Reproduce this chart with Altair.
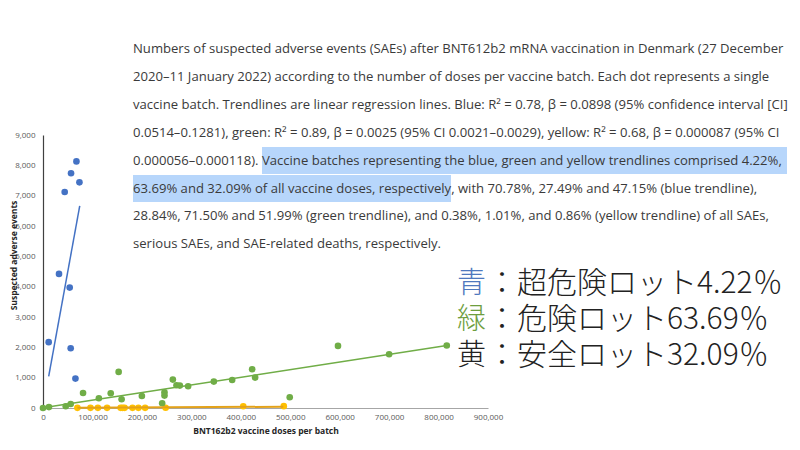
import altair as alt
import pandas as pd

# ---- data ----
blue_x = [67600, 56700, 73700, 43900, 32400, 54000, 11500, 56000, 65600]
blue_y = [8130, 7740, 7440, 7120, 4420, 3970, 2170, 1970, 970]

green_x = [0, 12000, 46000, 56000, 81000, 113000, 137000, 153000, 159000, 200000,
           241000, 245700, 245700, 262600, 270000, 276700, 293500, 345500, 382600,
           423000, 429000, 499000, 596600, 700000, 816600]
green_y = [0, 30, 56, 132, 495, 320, 485, 1190, 287, 396,
           155, 518, 409, 937, 749, 739, 716, 871, 924,
           1277, 1003, 353, 2046, 1772, 2060]

yellow_x = [69600, 96000, 111000, 129600, 157000, 161000, 165000, 181000, 193000,
            206500, 248000, 405000, 487000]
yellow_y = [5, 5, 5, 5, 5, 5, 5, 5, 5, 5, 8, 56, 60]

# trendline end points (as drawn in the figure)
blue_trend_x = [11500, 74300]
blue_trend_y = [1046, 6660]
green_trend_x = [0, 816600]
green_trend_y = [5, 2060]
yellow_trend_x = [69600, 486000]
yellow_trend_y = [6, 42]

x_ticks = list(range(0, 900001, 100000))
y_ticks = list(range(0, 9001, 1000))

caption_lines = [
    "Numbers of suspected adverse events (SAEs) after BNT612b2 mRNA vaccination in Denmark (27 December",
    "2020\u201311 January 2022) according to the number of doses per vaccine batch. Each dot represents a single",
    "vaccine batch. Trendlines are linear regression lines. Blue: R\u00b2 = 0.78, \u03b2 = 0.0898 (95% confidence interval [CI]",
    "0.0514\u20130.1281), green: R\u00b2 = 0.89, \u03b2 = 0.0025 (95% CI 0.0021\u20130.0029), yellow: R\u00b2 = 0.68, \u03b2 = 0.000087 (95% CI",
    "0.000056\u20130.000118). Vaccine batches representing the blue, green and yellow trendlines comprised 4.22%,",
    "63.69% and 32.09% of all vaccine doses, respectively, with 70.78%, 27.49% and 47.15% (blue trendline),",
    "28.84%, 71.50% and 51.99% (green trendline), and 0.38%, 1.01%, and 0.86% (yellow trendline) of all SAEs,",
    "serious SAEs, and SAE-related deaths, respectively.",
]

jp_heads = ["青", "緑", "黄"]
jp_head_colors = ["#4F78BE", "#6E9E3E", "#222222"]
jp_rest = ["：超危険ロット4.22％", "：危険ロット63.69％", "：安全ロット32.09％"]

BLUE = "#4472C4"
GREEN = "#70AD47"
YELLOW = "#FFC000"
YELLOW_LINE = "#E3A21A"

xs = alt.Scale(domain=[0, 900000], nice=False)
ys = alt.Scale(domain=[0, 9000], nice=False)

xaxis = alt.Axis(values=x_ticks, format=",.0f", title="BNT162b2 vaccine doses per batch",
                 grid=False, ticks=False, domainColor="#A6A6A6", domainWidth=1.2,
                 labelColor="#595959", labelFontSize=8, labelFont="Open Sans",
                 labelFlush=False, labelOverlap=False, labelPadding=5,
                 titleFont="Open Sans", titleFontSize=8.5, titleFontWeight="bold",
                 titleColor="#262626", titlePadding=5)
yaxis = alt.Axis(values=y_ticks, format=",.0f", title="Suspected adverse events",
                 grid=False, ticks=False, domainColor="#404040", domainWidth=1.2,
                 labelColor="#595959", labelFontSize=8, labelFont="Open Sans",
                 labelFlush=False, labelOverlap=False, labelPadding=8,
                 titleFont="Open Sans", titleFontSize=8.5, titleFontWeight="bold",
                 titleColor="#262626", titleX=-30, titleY=120, titleAngle=270,
                 titleAlign="center", titleBaseline="middle")


def points(xv, yv, color):
    df = pd.DataFrame({"doses": xv, "saes": yv})
    return alt.Chart(df).mark_circle(size=44, opacity=1, color=color).encode(
        x=alt.X("doses:Q", scale=xs, axis=xaxis),
        y=alt.Y("saes:Q", scale=ys, axis=yaxis),
    )


def trend(xv, yv, color, width=1.5):
    df = pd.DataFrame({"doses": xv, "saes": yv})
    return alt.Chart(df).mark_line(color=color, strokeWidth=width).encode(
        x=alt.X("doses:Q", scale=xs, axis=xaxis),
        y=alt.Y("saes:Q", scale=ys, axis=yaxis),
    )


one = pd.DataFrame({"k": [0]})

# highlight behind the selected caption words
hl1 = alt.Chart(one).mark_rect(color="#B7D6FB").encode(
    x=alt.value(219), x2=alt.value(744), y=alt.value(12), y2=alt.value(39))
hl2 = alt.Chart(one).mark_rect(color="#B7D6FB").encode(
    x=alt.value(90), x2=alt.value(408), y=alt.value(40), y2=alt.value(67))

caption = alt.Chart(one).mark_text(
    align="left", baseline="middle", font="Open Sans", fontSize=13.1,
    lineHeight=27.9, color="#3A3A3A").encode(
    x=alt.value(90), y=alt.value(-86), text=alt.value(caption_lines))

jp_layers = []
for i, (h, c, r) in enumerate(zip(jp_heads, jp_head_colors, jp_rest)):
    yy = 149 + i * 36
    jp_layers.append(alt.Chart(one).mark_text(
        align="left", baseline="middle", font="Noto Sans CJK JP", fontSize=29,
        color=c, fontWeight=300).encode(x=alt.value(414), y=alt.value(yy), text=alt.value(h)))
    jp_layers.append(alt.Chart(one).mark_text(
        align="left", baseline="middle", font="Noto Sans CJK JP", fontSize=30,
        color="#222222", fontWeight=300).encode(x=alt.value(444), y=alt.value(yy), text=alt.value(r)))

chart = alt.layer(
    hl1, hl2, caption,
    points(yellow_x, yellow_y, YELLOW),
    points(green_x, green_y, GREEN),
    points(blue_x, blue_y, BLUE),
    trend(yellow_trend_x, yellow_trend_y, YELLOW_LINE, 2),
    trend(green_trend_x, green_trend_y, GREEN),
    trend(blue_trend_x, blue_trend_y, BLUE),
    *jp_layers,
).properties(
    width=445, height=273,
    autosize=alt.AutoSizeParams(type="none"),
    padding={"left": 35, "top": 127, "right": 304, "bottom": 28},
    background="white",
).configure_view(stroke=None)

chart.save("out.html", embed_options={"renderer": "svg", "actions": False})
